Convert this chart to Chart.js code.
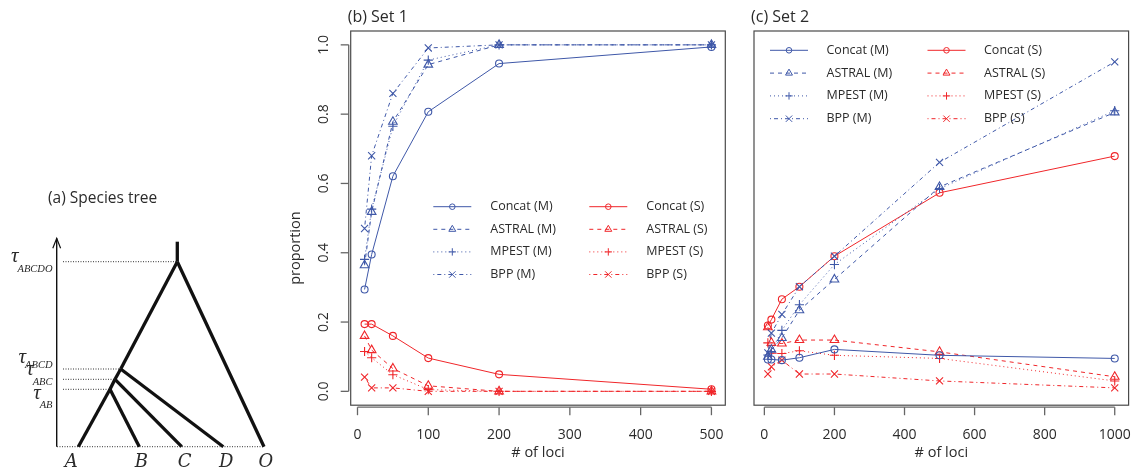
<!DOCTYPE html>
<html>
<head>
<meta charset="utf-8">
<script src="https://cdn.jsdelivr.net/npm/chart.js@4.4.1/dist/chart.umd.min.js"></script>
<style>
  body { margin: 0; background: #fff; }
  #wrap { position: relative; width: 1135px; height: 473px; overflow: hidden; }
  canvas { position: absolute; top: 0; }
</style>
</head>
<body>
<div id="wrap">
  <canvas id="tree" width="280" height="473" style="left:0px"></canvas>
  <canvas id="set1" width="455" height="473" style="left:280px"></canvas>
  <canvas id="set2" width="395" height="473" style="left:740px"></canvas>
</div>
<script>
'use strict';

//number of loci on the x axis
const lociSet1 = [10, 20, 50, 100, 200, 500];
const lociSet2 = [10, 20, 50, 100, 200, 500, 1000];
const methods = ['Concat', 'ASTRAL', 'MPEST', 'BPP'];

//(b) Set 1, proportion of replicates
const set1ConcatM = [0.294, 0.395, 0.621, 0.807, 0.946, 0.994];
const set1AstralM = [0.364, 0.518, 0.778, 0.943, 1.0, 1.0];
const set1MpestM = [0.381, 0.526, 0.765, 0.956, 1.0, 1.0];
const set1BppM = [0.470, 0.680, 0.860, 0.991, 1.0, 1.0];
const set1ConcatS = [0.194, 0.194, 0.160, 0.096, 0.049, 0.006];
const set1AstralS = [0.160, 0.119, 0.066, 0.016, 0.0, 0.0];
const set1MpestS = [0.115, 0.097, 0.048, 0.005, 0.0, 0.0];
const set1BppS = [0.041, 0.010, 0.010, 0.0, 0.0, 0.0];

//(c) Set 2
const set2ConcatM = [0.092, 0.092, 0.090, 0.097, 0.121, 0.104, 0.095];
const set2AstralM = [0.100, 0.120, 0.154, 0.234, 0.323, 0.590, 0.805];
const set2MpestM = [0.105, 0.115, 0.176, 0.250, 0.366, 0.585, 0.810];
const set2BppM = [0.111, 0.168, 0.222, 0.302, 0.390, 0.661, 0.951];
const set2ConcatS = [0.190, 0.207, 0.266, 0.302, 0.390, 0.573, 0.679];
const set2AstralS = [0.185, 0.140, 0.138, 0.148, 0.148, 0.114, 0.042];
const set2MpestS = [0.140, 0.110, 0.109, 0.117, 0.104, 0.095, 0.030];
const set2BppS = [0.050, 0.071, 0.090, 0.050, 0.050, 0.030, 0.010];

//tick labels
const set1XTicks = [0, 100, 200, 300, 400, 500];
const set2XTicks = [0, 200, 400, 600, 800, 1000];
const yTicks = [0.0, 0.2, 0.4, 0.6, 0.8, 1.0];

//(a) species tree: leaves sit at time 0
const leafNames = ['A', 'B', 'C', 'D', 'O'];
const leafPos = [78.3, 139.3, 181.7, 223.3, 264];
const nodeNames = ['AB', 'ABC', 'ABCD', 'ABCDO'];
const nodeTime = [57.4, 67.4, 77.7, 185];
const nodePos = [110, 115, 120.7, 177.3];
//parent node -> child (leaf name or node name)
const treeEdges = [['ABCDO', 'ABCD'], ['ABCDO', 'O'], ['ABCD', 'ABC'], ['ABCD', 'D'],
                   ['ABC', 'AB'], ['ABC', 'C'], ['AB', 'A'], ['AB', 'B']];

const BLUE = '#3f58a8';
const RED = '#f0262a';
const FONT = '"Open Sans", sans-serif';
const TEXT = '#2b2b2b';

//line type and point type for each method (like R lty / pch)
const dashes = [[], [4, 4], [1, 3], [1, 3, 4, 3]];
const marks = ['circle', 'triangle', 'cross', 'crossRot'];
const markSize = [3.5, 5, 4.6, 5];

function makeSet(loci, values, i, color, tag) {
    return {
        label: methods[i] + ' (' + tag + ')',
        data: loci.map((x, k) => ({x: x, y: values[k]})),
        showLine: true,
        borderColor: color,
        borderWidth: 1,
        borderDash: dashes[i],
        pointStyle: marks[i],
        pointRadius: markSize[i],
        pointBorderColor: color,
        pointBackgroundColor: 'rgba(0,0,0,0)',
        pointBorderWidth: 1.1,
        tension: 0
    };
}

//draws a marker like the ones the chart uses, for the legend
function drawMark(ctx, style, x, y, r) {
    ctx.beginPath();
    if (style === 'circle') {
        ctx.arc(x, y, r, 0, Math.PI * 2);
    } else if (style === 'triangle') {
        ctx.moveTo(x, y - r);
        ctx.lineTo(x + r * 0.87, y + r * 0.5);
        ctx.lineTo(x - r * 0.87, y + r * 0.5);
        ctx.closePath();
    } else if (style === 'cross') {
        ctx.moveTo(x - r, y); ctx.lineTo(x + r, y);
        ctx.moveTo(x, y - r); ctx.lineTo(x, y + r);
    } else {
        let d = r * 0.7071;
        ctx.moveTo(x - d, y - d); ctx.lineTo(x + d, y + d);
        ctx.moveTo(x - d, y + d); ctx.lineTo(x + d, y - d);
    }
    ctx.stroke();
}

//box, ticks, labels, title and legend in the R style
function panelPlugin(cfg) {
    return {
        id: 'panelDecor',
        afterDraw(chart) {
            const ctx = chart.ctx;
            const a = chart.chartArea;
            const xs = chart.scales.x;
            const ys = chart.scales.y;
            ctx.save();
            ctx.setLineDash([]);
            //box
            ctx.strokeStyle = '#4a4a4a';
            ctx.lineWidth = 1.2;
            ctx.strokeRect(a.left, a.top, a.right - a.left, a.bottom - a.top);

            //x axis
            ctx.strokeStyle = '#666';
            ctx.lineWidth = 1.3;
            let x0 = xs.getPixelForValue(cfg.xTicks[0]);
            let x1 = xs.getPixelForValue(cfg.xTicks[cfg.xTicks.length - 1]);
            ctx.beginPath();
            ctx.moveTo(x0, a.bottom + 2); ctx.lineTo(x1, a.bottom + 2);
            ctx.stroke();
            ctx.fillStyle = TEXT;
            ctx.font = '14px ' + FONT;
            ctx.textAlign = 'center';
            ctx.textBaseline = 'middle';
            cfg.xTicks.forEach(v => {
                let px = xs.getPixelForValue(v);
                ctx.beginPath();
                ctx.moveTo(px, a.bottom + 2); ctx.lineTo(px, a.bottom + 10);
                ctx.stroke();
                ctx.fillText(String(v), px, a.bottom + 30);
            });
            ctx.font = '14.5px ' + FONT;
            ctx.fillText('# of loci', (a.left + a.right) / 2, a.bottom + 48);

            //y axis, only on set 1
            if (cfg.yTicks) {
                let y0 = ys.getPixelForValue(cfg.yTicks[0]);
                let y1 = ys.getPixelForValue(cfg.yTicks[cfg.yTicks.length - 1]);
                ctx.beginPath();
                ctx.moveTo(a.left - 2, y0); ctx.lineTo(a.left - 2, y1);
                ctx.stroke();
                cfg.yTicks.forEach(v => {
                    let py = ys.getPixelForValue(v);
                    ctx.beginPath();
                    ctx.moveTo(a.left - 2, py); ctx.lineTo(a.left - 10, py);
                    ctx.stroke();
                    ctx.save();
                    ctx.translate(a.left - 27, py);
                    ctx.rotate(-Math.PI / 2);
                    ctx.font = '14px ' + FONT;
                    ctx.fillText(v.toFixed(1), 0, 0);
                    ctx.restore();
                });
                ctx.save();
                ctx.translate(a.left - 55, (a.top + a.bottom) / 2 + 30);
                ctx.rotate(-Math.PI / 2);
                ctx.font = '14.5px ' + FONT;
                ctx.fillText('proportion', 0, 0);
                ctx.restore();
            }

            //panel title
            ctx.textAlign = 'left';
            ctx.font = '16px ' + FONT;
            ctx.fillText(cfg.title, a.left - 3, 17);

            //legend: M runs in the left column, S in the right
            let sets = chart.data.datasets;
            ctx.font = '12.5px ' + FONT;
            sets.forEach((ds, k) => {
                let col = k < 4 ? 0 : 1;
                let row = k % 4;
                let lx = cfg.legend.x[col];
                let ly = cfg.legend.y0 + row * cfg.legend.dy;
                ctx.strokeStyle = ds.borderColor;
                ctx.lineWidth = 1;
                ctx.setLineDash(ds.borderDash);
                ctx.beginPath();
                ctx.moveTo(lx, ly); ctx.lineTo(lx + 38, ly);
                ctx.stroke();
                ctx.setLineDash([]);
                drawMark(ctx, ds.pointStyle, lx + 19, ly, ds.pointStyle === 'crossRot' ? 4.5 : ds.pointRadius * 0.8);
                ctx.fillStyle = TEXT;
                ctx.fillText(ds.label, lx + cfg.legend.textGap, ly);
            });
            ctx.restore();
        }
    };
}

function makePanel(id, loci, mList, sList, xMin, xMax, pad, cfg) {
    let datasets = [];
    mList.forEach((vals, i) => datasets.push(makeSet(loci, vals, i, BLUE, 'M')));
    sList.forEach((vals, i) => datasets.push(makeSet(loci, vals, i, RED, 'S')));
    return new Chart(document.getElementById(id), {
        type: 'scatter',
        data: {datasets: datasets},
        options: {
            responsive: false,
            animation: false,
            layout: {padding: pad},
            scales: {
                x: {type: 'linear', display: false, min: xMin, max: xMax},
                y: {type: 'linear', display: false, min: -0.04, max: 1.04}
            },
            plugins: {legend: {display: false}, tooltip: {enabled: false}}
        },
        plugins: [panelPlugin(cfg)]
    });
}

//R pads the data range by 4% on each side
makePanel('set1', lociSet1,
    [set1ConcatM, set1AstralM, set1MpestM, set1BppM],
    [set1ConcatS, set1AstralS, set1MpestS, set1BppS],
    -9.6, 519.6,
    {left: 70.7, right: 9.7, top: 31, bottom: 67.8},
    {title: '(b) Set 1', xTicks: set1XTicks, yTicks: yTicks,
     legend: {x: [153.3, 309.3], y0: 206.7, dy: 22.6, textGap: 57}});

makePanel('set2', lociSet2,
    [set2ConcatM, set2AstralM, set2MpestM, set2BppM],
    [set2ConcatS, set2AstralS, set2MpestS, set2BppS],
    -29.6, 1039.6,
    {left: 14, right: 6.4, top: 31, bottom: 67.8},
    {title: '(c) Set 2', xTicks: set2XTicks, yTicks: null,
     legend: {x: [30, 187.5], y0: 50.3, dy: 22.8, textGap: 56.5}});

//species tree drawn as line segments on a hidden linear scale
function nodeXY(name) {
    let i = nodeNames.indexOf(name);
    if (i >= 0) return {x: nodePos[i], y: nodeTime[i]};
    i = leafNames.indexOf(name);
    return {x: leafPos[i], y: 0};
}

let treeSets = [];
treeEdges.forEach(e => {
    treeSets.push({data: [nodeXY(e[0]), nodeXY(e[1])], showLine: true,
        borderColor: '#111', borderWidth: 3.3, pointRadius: 0, borderCapStyle: 'butt'});
});
let root = nodeXY('ABCDO');
treeSets.push({data: [root, {x: root.x, y: root.y + 20}], showLine: true,
    borderColor: '#111', borderWidth: 3.3, pointRadius: 0});
//dotted time guides
nodeNames.forEach((n, i) => {
    treeSets.push({data: [{x: 63, y: nodeTime[i]}, {x: nodePos[i], y: nodeTime[i]}], showLine: true,
        borderColor: '#333', borderWidth: 1, borderDash: [1, 1.5], pointRadius: 0});
});
treeSets.push({data: [{x: 57, y: 0}, {x: leafPos[leafPos.length - 1], y: 0}], showLine: true,
    borderColor: '#333', borderWidth: 1, borderDash: [1, 1.5], pointRadius: 0});
//time arrow
treeSets.push({data: [{x: 56.7, y: 0}, {x: 56.7, y: 208.4}], showLine: true,
    borderColor: '#111', borderWidth: 1.4, pointRadius: 0});
treeSets.push({data: [{x: 52.8, y: 198.4}, {x: 56.7, y: 208.4}, {x: 60.6, y: 198.4}], showLine: true,
    borderColor: '#111', borderWidth: 1.2, pointRadius: 0});

const treeLabels = {
    id: 'treeLabels',
    afterDraw(chart) {
        const ctx = chart.ctx;
        const xs = chart.scales.x;
        const ys = chart.scales.y;
        ctx.save();
        ctx.fillStyle = TEXT;
        ctx.textBaseline = 'middle';
        ctx.textAlign = 'left';
        ctx.font = '15.5px ' + FONT;
        ctx.fillText('(a) Species tree', 48, 199);

        //leaf names
        ctx.textAlign = 'center';
        ctx.font = 'italic 18px "DejaVu Serif", "Liberation Serif", serif';
        const dx = [-7, 2, 3, 3, 2];
        leafNames.forEach((n, i) => {
            ctx.fillText(n, xs.getPixelForValue(leafPos[i]) + dx[i], ys.getPixelForValue(0) + 16);
        });

        //tau labels, shifted so they do not overlap
        const shift = [[4, 16], [-10, 3], [-12, -4], [-5, 8]];
        nodeNames.forEach((n, i) => {
            let py = ys.getPixelForValue(nodeTime[i]);
            ctx.font = 'italic 10.5px "Liberation Serif", serif';
            let subW = ctx.measureText(n).width;
            let subLeft = 52.5 - subW;
            ctx.textAlign = 'left';
            ctx.font = 'italic 21px "Liberation Serif", serif';
            ctx.fillText('\u03c4', subLeft - 6.5, py + shift[i][0]);
            ctx.font = 'italic 10.5px "Liberation Serif", serif';
            ctx.fillText(n, subLeft, py + shift[i][1]);
        });
        ctx.restore();
    }
};

new Chart(document.getElementById('tree'), {
    type: 'scatter',
    data: {datasets: treeSets},
    options: {
        responsive: false,
        animation: false,
        layout: {padding: 0},
        scales: {
            x: {type: 'linear', display: false, min: 0, max: 280},
            y: {type: 'linear', display: false, min: -26.3, max: 446.7}
        },
        plugins: {legend: {display: false}, tooltip: {enabled: false}}
    },
    plugins: [treeLabels]
});
</script>
</body>
</html>
